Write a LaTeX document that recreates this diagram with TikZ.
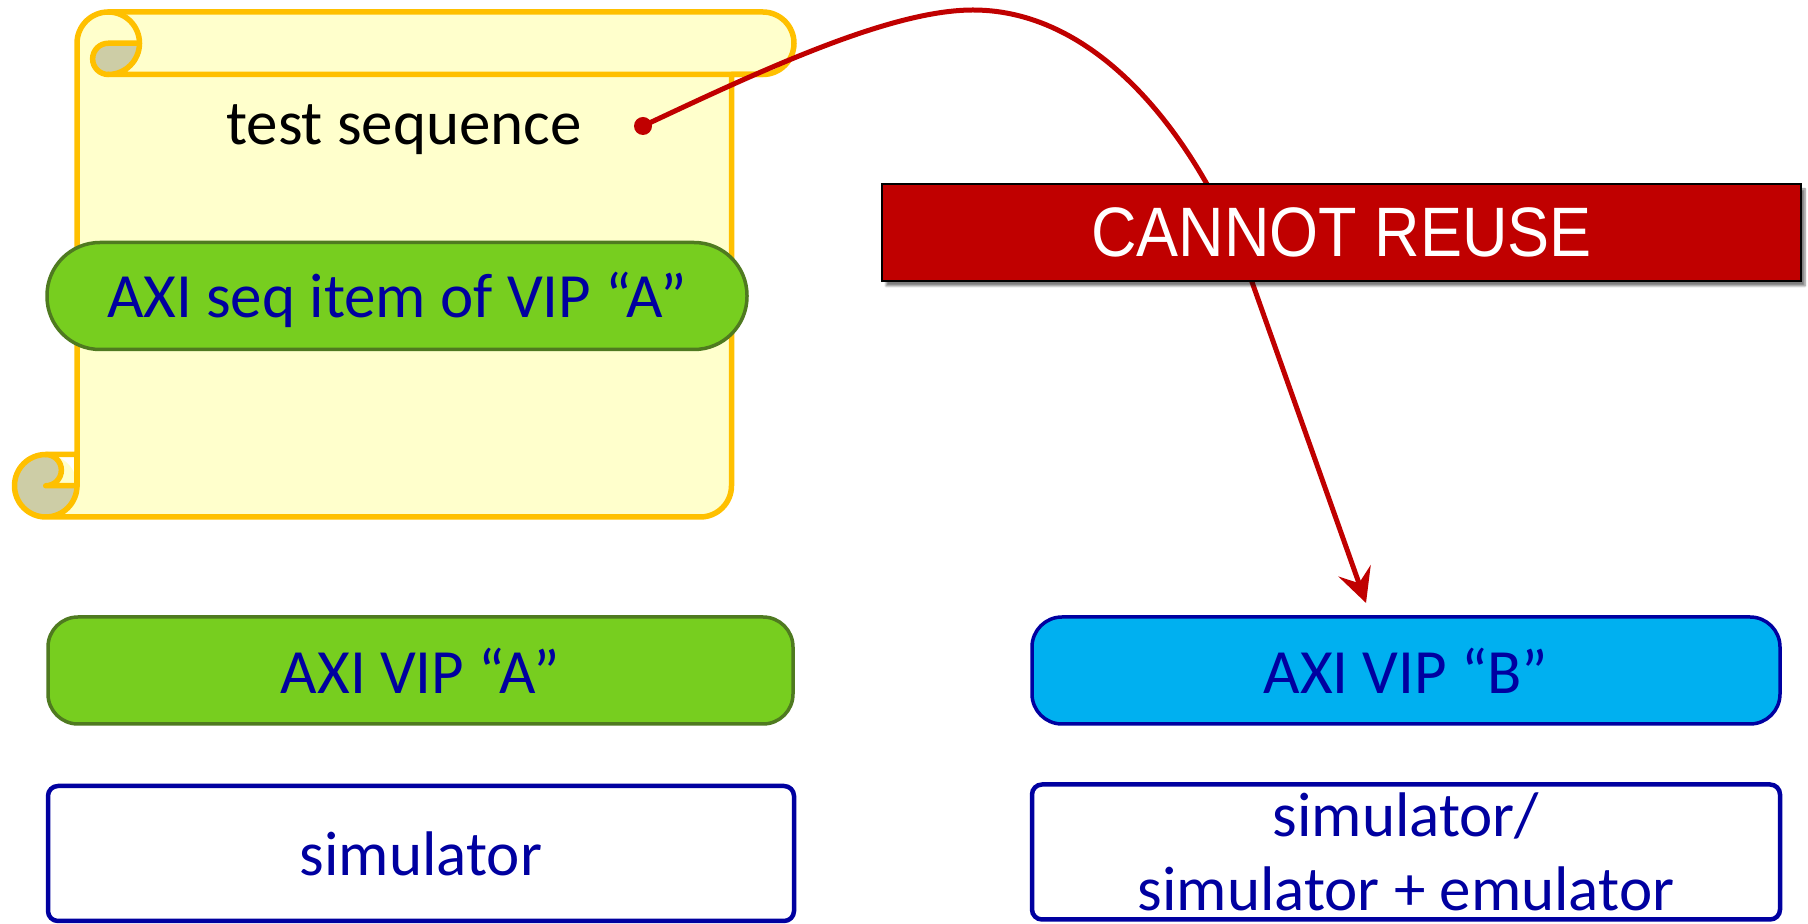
\documentclass[tikz,border=0pt]{standalone}
\usepackage{fontspec}
\setmainfont{Carlito}
\newfontfamily\warnfont[FakeStretch=0.9]{Liberation Sans}
\usetikzlibrary{arrows.meta,shadows.blur}
\definecolor{scrollfill}{HTML}{FFFFCC}
\definecolor{scrollline}{HTML}{FFC000}
\definecolor{curlshade}{HTML}{CDCDA6}
\definecolor{vipgreen}{HTML}{77CE1F}
\definecolor{vipgreenline}{HTML}{4F7A20}
\definecolor{vipblue}{HTML}{00B0F0}
\definecolor{navy}{HTML}{0000A0}
\definecolor{alarm}{HTML}{C00000}
\begin{document}
\begin{tikzpicture}[x=1pt,y=1pt,
  navytext/.style={font=\fontsize{63}{75}\selectfont, text=navy},
  vipbox/.style={rounded corners=30pt, line width=3.5pt, minimum height=107pt, inner sep=0pt, navytext},
  hostbox/.style={rounded corners=10pt, draw=navy, line width=4.5pt, fill=white, minimum height=135pt, inner sep=0pt, navytext, align=center},
  scrollstroke/.style={draw=scrollline, line width=5.5pt, line join=round, line cap=round}
]
\useasboundingbox (0,0) rectangle (1808,924);

% ---- scroll: fills ----
\fill[scrollfill] (77,438.25) -- (77,880.75)
  arc[start angle=180,end angle=90,radius=31.25] -- (762.75,912)
  arc[start angle=90,end angle=-90,radius=31.25] -- (731.5,849.5) -- (731.5,438.25)
  arc[start angle=0,end angle=-90,radius=31.25] -- (45.75,407)
  arc[start angle=-90,end angle=0,radius=31.25] -- cycle;
\fill[scrollfill] (45.75,438.25) circle[radius=31.25];
\fill[curlshade] (108.25,880.75) -- (139.5,880.75)
  arc[start angle=0,end angle=-90,radius=31.25]
  arc[start angle=270,end angle=90,radius=15.625] -- cycle;
\fill[curlshade] (45.75,469.5)
  arc[start angle=90,end angle=-90,radius=15.625] -- (77,438.25)
  arc[start angle=0,end angle=-270,radius=31.25] -- cycle;

% ---- scroll: outlines ----
\draw[scrollstroke] (77,438.25) arc[start angle=0,end angle=-270,radius=31.25]
  -- (77,469.5) -- (77,880.75)
  arc[start angle=180,end angle=90,radius=31.25] -- (762.75,912)
  arc[start angle=90,end angle=-90,radius=31.25] -- (731.5,849.5) -- (731.5,438.25)
  arc[start angle=0,end angle=-90,radius=31.25] -- (45.75,407);
\draw[scrollstroke] (77,469.5) -- (77,438.25);
\draw[scrollstroke] (45.75,469.5) arc[start angle=90,end angle=-90,radius=15.625] -- (77,438.25);
\draw[scrollstroke] (108.25,912) arc[start angle=90,end angle=-90,radius=31.25] -- (762.75,849.5);
\draw[scrollstroke] (139.5,880.75) -- (108.25,880.75) arc[start angle=90,end angle=270,radius=15.625];

% ---- scroll contents ----
\node[anchor=base, font=\fontsize{63}{75}\selectfont, text=black, inner sep=0pt] (seq) at (404,779) {test sequence};
\node[vipbox, draw=vipgreenline, fill=vipgreen, minimum width=700pt, rounded corners=53pt,
  text height=44pt, text depth=0pt] (item) at (397,628) {AXI seq item of VIP “A”};

% ---- connector ----
\node[circle, fill=alarm, minimum size=18pt, inner sep=0pt] (dot) at (643,798) {};
\coordinate (tip) at (1366,321);
\draw[alarm, line width=5pt, -{Stealth[length=34pt,width=34pt,inset=13pt]}]
  (dot.center) .. controls (760,853) and (890,914) .. (973,914)
  .. controls (1100,914) and (1200,784) .. (1252,642) -- (tip);

% ---- warning banner ----
\node[draw=black, line width=2pt, fill=alarm, minimum width=919pt, minimum height=97pt, inner sep=0pt,
  blur shadow={shadow xshift=4pt, shadow yshift=-5pt, shadow blur steps=6, shadow opacity=50},
  text=white, font=\warnfont\fontsize{70}{84}\selectfont] (warn) at (1341.5,691.5) {CANNOT REUSE};

% ---- VIP blocks ----
\node[vipbox, draw=vipgreenline, fill=vipgreen, minimum width=745pt] (vipA) at (420.5,253.5) {AXI VIP “A”};
\node[vipbox, draw=navy, fill=vipblue, minimum width=748pt] (vipB) at (1406,253.5) {AXI VIP “B”};

% ---- hosts ----
\node[hostbox, minimum width=746pt] (simA) at (421,70.5) {simulator};
\node[hostbox, minimum width=748pt, font=\fontsize{63}{74}\selectfont] (simB) at (1406,72) {simulator/\\simulator + emulator};
\end{tikzpicture}
\end{document}
